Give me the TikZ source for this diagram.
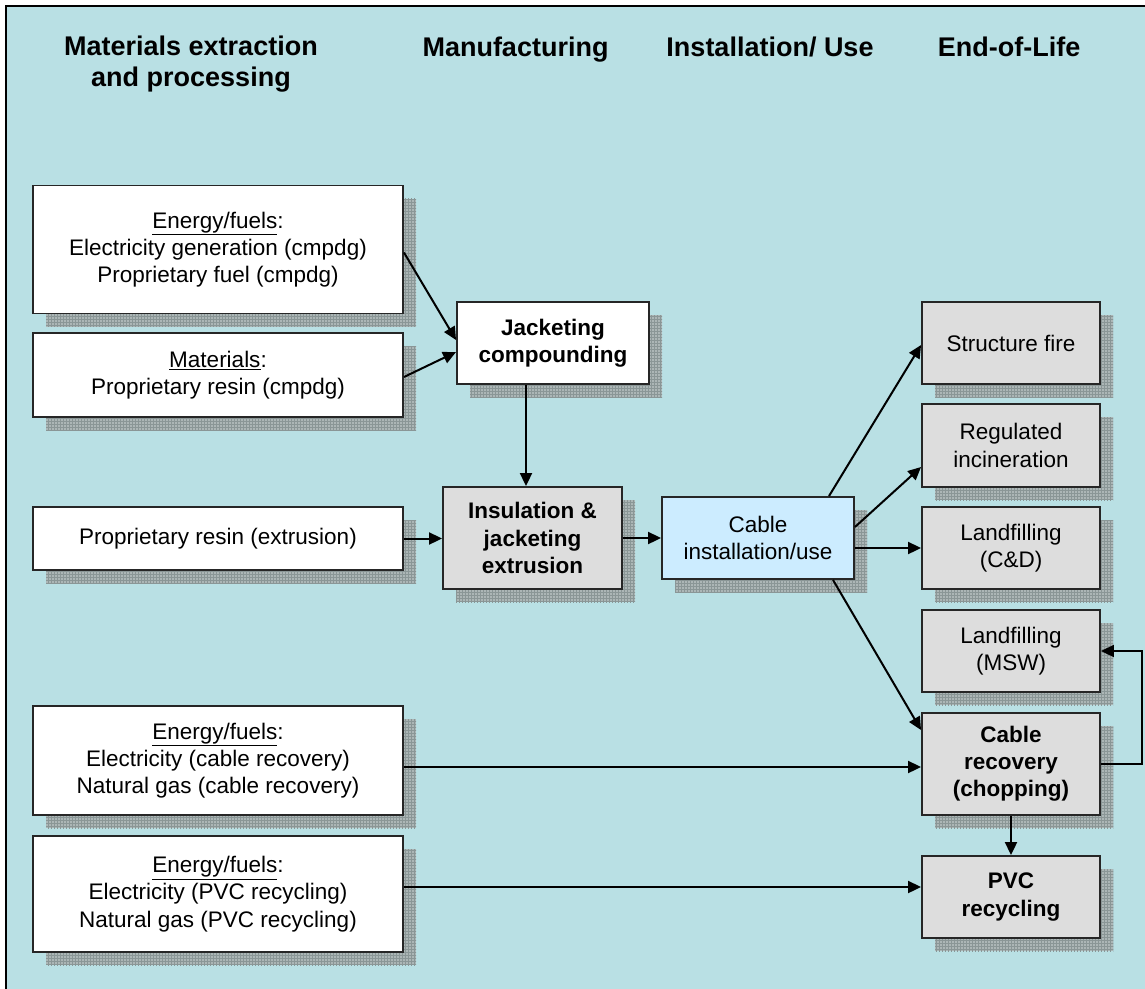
\documentclass[tikz,border=0pt]{standalone}
\usepackage{fontspec}
\setmainfont{Liberation Sans}
\usetikzlibrary{arrows.meta,shadows,patterns}
\definecolor{bgcyan}{RGB}{185,224,228}
\definecolor{boxgray}{RGB}{221,221,221}
\definecolor{useblue}{RGB}{204,236,255}
\definecolor{shadowfill}{RGB}{172,182,182}
\definecolor{shadowline}{RGB}{138,150,150}

\tikzset{
  stage/.style={font=\fontsize{27}{31}\selectfont\bfseries, align=center, inner sep=0pt},
  flowbox/.style={draw=black!85, line width=1.9pt, align=center, inner sep=2pt,
    font=\fontsize{22.5}{27.2}\selectfont,
    drop shadow={shadow xshift=13pt, shadow yshift=-13pt, opacity=1, fill=shadowfill, draw=none,
      postaction={pattern=grid, pattern color=shadowline}}},
  inputbox/.style={flowbox, fill=white, minimum width=370pt},
  boldbox/.style={flowbox, font=\fontsize{22.5}{27.2}\selectfont\bfseries},
  eolbox/.style={flowbox, fill=boxgray, minimum width=178pt, minimum height=82pt},
  arr/.style={-{Triangle[length=13pt,width=12pt]}, line width=2pt}
}

\begin{document}
\begin{tikzpicture}[x=1pt, y=-1pt]
  \useasboundingbox (0,0) rectangle (1145,988);
  \fill[white] (0,0) rectangle (1145,988);
  \begin{scope}
    \clip (0,0) rectangle (1145,988);
    \draw[fill=bgcyan, line width=2pt] (6,6) rectangle (1160,1000);
  \end{scope}

  % stage headings
  \node[stage] (hdmat) at (191,64.5) {Materials extraction\\and processing};
  \node[stage, anchor=base] (hdman) at (515.5,56) {Manufacturing};
  \node[stage, anchor=base] (hdinst) at (770,56) {Installation/ Use};
  \node[stage, anchor=base] (hdeol) at (1009,56) {End-of-Life};

  % inputs
  \node[inputbox, minimum height=128pt] (elecgen) at (218,249.5)
    {\underline{Energy/fuels}:\\Electricity generation (cmpdg)\\Proprietary fuel (cmpdg)};
  \node[inputbox, minimum height=84pt] (resincmp) at (218,375)
    {\underline{Materials}:\\Proprietary resin (cmpdg)};
  \node[inputbox, minimum height=63pt] (resinext) at (218,538.5)
    {Proprietary resin (extrusion)};
  \node[inputbox, minimum height=109pt] (recenergy) at (218,760.5)
    {\underline{Energy/fuels}:\\Electricity (cable recovery)\\Natural gas (cable recovery)};
  \node[inputbox, minimum height=116pt] (pvcenergy) at (218,894)
    {\underline{Energy/fuels}:\\Electricity (PVC recycling)\\Natural gas (PVC recycling)};

  % manufacturing and use
  \node[boldbox, fill=white, minimum width=192pt, minimum height=82pt] (compound) at (553,343)
    {Jacketing\\compounding};
  \node[boldbox, fill=boxgray, minimum width=179pt, minimum height=102pt] (extrude) at (532.5,538)
    {Insulation \&\\jacketing\\extrusion};
  \node[flowbox, fill=useblue, minimum width=192pt, minimum height=82pt] (cableuse) at (758,538)
    {Cable\\installation/use};

  % end of life
  \node[eolbox] (fire) at (1011,343) {Structure fire};
  \node[eolbox, minimum height=83pt] (incin) at (1011,445.5) {Regulated\\incineration};
  \node[eolbox] (landcd) at (1011,548) {Landfilling\\(C\&D)};
  \node[eolbox] (landmsw) at (1011,651) {Landfilling\\(MSW)};
  \node[eolbox, boldbox, minimum height=102pt] (recovery) at (1011,764) {Cable\\recovery\\(chopping)};
  \node[eolbox, boldbox] (pvcrec) at (1011,897) {PVC\\recycling};

  % flows
  \draw[arr] ([yshift=-3pt]elecgen.east) -- ([yshift=3pt]compound.west);
  \draw[arr] ([yshift=-2pt]resincmp.east) -- ([yshift=-9pt]compound.west);
  \draw[arr] ([xshift=-27pt]compound.south) -- ([xshift=-27pt]compound.south |- extrude.north);
  \draw[arr] (resinext.east) -- (resinext.east -| extrude.west);
  \draw[arr] (extrude.east) -- (cableuse.west);
  \draw[arr] ([xshift=71pt]cableuse.north) -- ([yshift=-2pt]fire.west);
  \draw[arr] ([yshift=11pt]cableuse.east) -- ([yshift=-21.5pt]incin.west);
  \draw[arr] (cableuse.east |- landcd.west) -- (landcd.west);
  \draw[arr] ([xshift=75pt]cableuse.south) -- ([yshift=34pt]recovery.west);
  \draw[arr] ([yshift=-3pt]recovery.west -| recenergy.east) -- ([yshift=-3pt]recovery.west);
  \draw[arr] ([yshift=10pt]pvcrec.west -| pvcenergy.east) -- ([yshift=10pt]pvcrec.west);
  \draw[arr] (recovery.south) -- (pvcrec.north);
  \draw[arr] (recovery.east) -- ++(41,0) |- (landmsw.east);
\end{tikzpicture}
\end{document}
